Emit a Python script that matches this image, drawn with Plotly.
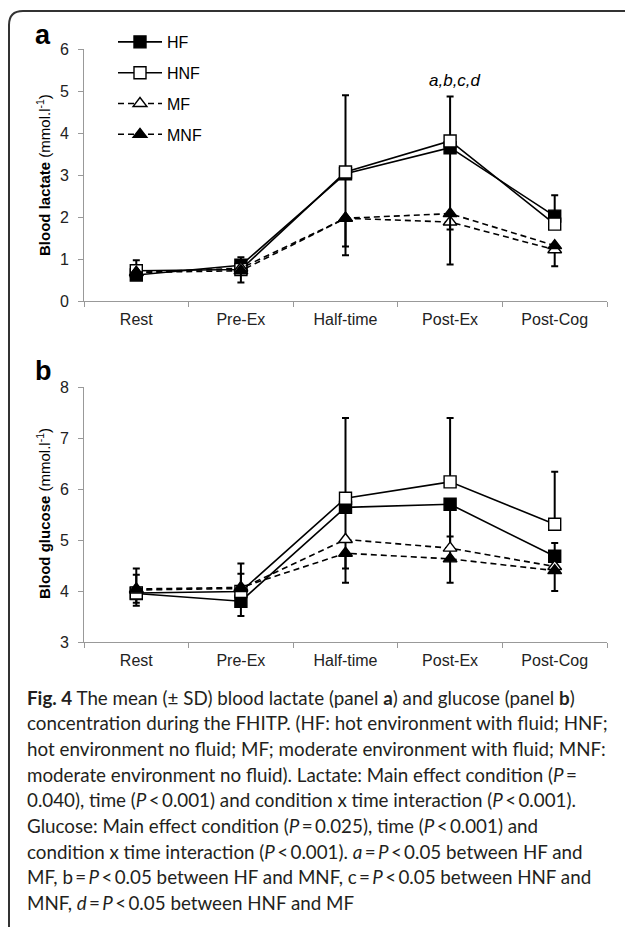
import plotly.graph_objects as go
from plotly.subplots import make_subplots

categories = ["Rest", "Pre-Ex", "Half-time", "Post-Ex", "Post-Cog"]
series_names = ["HF", "HNF", "MF", "MNF"]

# Blood lactate (mmol/l)
lac_HF = [0.62, 0.85, 3.03, 3.65, 2.02]
lac_HNF = [0.72, 0.75, 3.07, 3.81, 1.83]
lac_MF = [0.68, 0.78, 1.97, 1.88, 1.22]
lac_MNF = [0.68, 0.72, 1.97, 2.08, 1.32]
lac_HF_plus = [0, 0.19, 0, 0, 0.50]
lac_HF_minus = [0, 0, 1.73, 1.95, 0]
lac_HNF_plus = [0.25, 0, 1.83, 1.06, 0]
lac_HNF_minus = [0, 0, 0, 0, 0]
lac_MF_plus = [0, 0, 0, 0, 0]
lac_MF_minus = [0, 0, 0, 0, 0.39]
lac_MNF_plus = [0, 0, 0, 0, 0]
lac_MNF_minus = [0, 0.28, 0.88, 1.21, 0]

# Blood glucose (mmol/l)
glu_HF = [3.95, 3.80, 5.64, 5.70, 4.68]
glu_HNF = [3.96, 3.99, 5.82, 6.14, 5.31]
glu_MF = [4.02, 4.05, 5.01, 4.84, 4.48]
glu_MNF = [4.04, 4.07, 4.74, 4.63, 4.40]
glu_HF_plus = [0, 0, 0, 0, 0.26]
glu_HF_minus = [0.24, 0.29, 1.20, 1.54, 0]
glu_HNF_plus = [0, 0.35, 1.57, 1.25, 1.03]
glu_HNF_minus = [0.19, 0, 0, 0, 0]
glu_MF_plus = [0.42, 0.49, 0, 0.23, 0]
glu_MF_minus = [0, 0, 0, 0, 0]
glu_MNF_plus = [0.28, 0, 0, 0, 0]
glu_MNF_minus = [0, 0, 0.58, 0, 0.40]

lac_ticks = [0, 1, 2, 3, 4, 5, 6]
glu_ticks = [3, 4, 5, 6, 7, 8]

caption_lines = [
    "<b>Fig. 4</b> The mean (± SD) blood lactate (panel <b>a</b>) and glucose (panel <b>b</b>)",
    "concentration during the FHITP. (HF: hot environment with fluid; HNF;",
    "hot environment no fluid; MF; moderate environment with fluid; MNF:",
    "moderate environment no fluid). Lactate: Main effect condition (<i>P</i>\u2009=",
    "0.040), time (<i>P</i>\u2009&lt;\u20090.001) and condition x time interaction (<i>P</i>\u2009&lt;\u20090.001).",
    "Glucose: Main effect condition (<i>P</i>\u2009=\u20090.025), time (<i>P</i>\u2009&lt;\u20090.001) and",
    "condition x time interaction (<i>P</i>\u2009&lt;\u20090.001). <i>a</i>\u2009=\u2009<i>P</i>\u2009&lt;\u20090.05 between HF and",
    "MF, b\u2009=\u2009<i>P</i>\u2009&lt;\u20090.05 between HF and MNF, c\u2009=\u2009<i>P</i>\u2009&lt;\u20090.05 between HNF and",
    "MNF, <i>d</i>\u2009=\u2009<i>P</i>\u2009&lt;\u20090.05 between HNF and MF",
]

W, H = 625, 927
ML, MR, MT, MB = 84, 18, 49, 285
PW, PH = W - ML - MR, H - MT - MB


def px_x(p):
    return (p - ML) / PW


def px_y(p):
    return (H - MB - p) / PH


FONT = "Liberation Sans, Arial, sans-serif"

fig = make_subplots(rows=2, cols=1, vertical_spacing=0.145)

styles = {
    "HF": dict(symbol="square", fill="black", dash="solid"),
    "HNF": dict(symbol="square", fill="white", dash="solid"),
    "MF": dict(symbol="triangle-up", fill="white", dash="6px,4px"),
    "MNF": dict(symbol="triangle-up", fill="black", dash="6px,4px"),
}

lac = {"HF": (lac_HF, lac_HF_plus, lac_HF_minus),
       "HNF": (lac_HNF, lac_HNF_plus, lac_HNF_minus),
       "MF": (lac_MF, lac_MF_plus, lac_MF_minus),
       "MNF": (lac_MNF, lac_MNF_plus, lac_MNF_minus)}
glu = {"HF": (glu_HF, glu_HF_plus, glu_HF_minus),
       "HNF": (glu_HNF, glu_HNF_plus, glu_HNF_minus),
       "MF": (glu_MF, glu_MF_plus, glu_MF_minus),
       "MNF": (glu_MNF, glu_MNF_plus, glu_MNF_minus)}

for row, data in ((1, lac), (2, glu)):
    for name in series_names:
        vals, plus, minus = data[name]
        st = styles[name]
        fig.add_trace(go.Scatter(
            x=categories, y=vals, name=name, mode="lines+markers",
            legendgroup=name, showlegend=(row == 1),
            line=dict(color="black", width=1.6, dash=st["dash"]),
            marker=dict(symbol=st["symbol"], size=12, color=st["fill"],
                        line=dict(color="black", width=1.4)),
            error_y=dict(type="data", symmetric=False, array=plus, arrayminus=minus,
                         color="black", thickness=2, width=3.5),
            cliponaxis=False,
        ), row=row, col=1)

axis_common = dict(showline=True, linecolor="#999999", linewidth=1, ticks="outside",
                   tickcolor="#999999", ticklen=5, showgrid=False, zeroline=False,
                   automargin=False,
                   tickfont=dict(family=FONT, size=16, color="#222222"))

fig.update_xaxes(**axis_common, type="category", tickson="boundaries",
                 range=[-0.5, 4.5], ticklabelstandoff=4)
fig.update_yaxes(**axis_common, ticklabelstandoff=6)
fig.update_yaxes(range=[0, 6], tickvals=lac_ticks, domain=[px_y(301), 1], row=1, col=1)
fig.update_yaxes(range=[3, 8], tickvals=glu_ticks, domain=[0, px_y(387)], row=2, col=1)

ann = []
# panel letters
ann.append(dict(text="<b>a</b>", x=px_x(43), y=px_y(35), xref="paper", yref="paper",
                xanchor="center", yanchor="middle",
                showarrow=False, font=dict(family=FONT, size=27, color="black")))
ann.append(dict(text="<b>b</b>", x=px_x(43), y=px_y(371), xref="paper", yref="paper",
                xanchor="center", yanchor="middle",
                showarrow=False, font=dict(family=FONT, size=27, color="black")))
# y-axis titles
ann.append(dict(text="<b>Blood lactate</b> (mmol.l<sup>-1</sup>)", x=px_x(43), y=px_y(175),
                xref="paper", yref="paper", textangle=-90, showarrow=False,
                xanchor="center", yanchor="middle",
                font=dict(family=FONT, size=15, color="black")))
ann.append(dict(text="<b>Blood glucose</b> (mmol.l<sup>-1</sup>)", x=px_x(43), y=px_y(514),
                xref="paper", yref="paper", textangle=-90, showarrow=False,
                xanchor="center", yanchor="middle",
                font=dict(family=FONT, size=15, color="black")))
# significance labels
ann.append(dict(text="<i>a,b,c,d</i>", x="Post-Ex", y=5.25, xref="x", yref="y",
                xshift=5, showarrow=False, font=dict(family=FONT, size=17, color="black")))
ann.append(dict(text="<i>d</i>", x="Half-time", y=8.08, xref="x2", yref="y2",
                showarrow=False, font=dict(family=FONT, size=17, color="black")))
ann.append(dict(text="<i>a,c,d</i>", x="Post-Ex", y=8.08, xref="x2", yref="y2",
                xshift=16, showarrow=False, font=dict(family=FONT, size=17, color="black")))
# caption
for i, line in enumerate(caption_lines):
    ann.append(dict(text=line, x=px_x(25), y=px_y(697 + i * 25.7), xref="paper", yref="paper",
                    xanchor="left", yanchor="middle", showarrow=False, align="left",
                    font=dict(family="Lato, Open Sans, sans-serif", size=18.8, color="#231f20")))

# rounded frame
x0, y0, x1, y1, r = 9, 11, 640, 940, 14
fx = lambda p: px_x(p)
fy = lambda p: px_y(p)
path = (f"M {fx(x0)},{fy(y0 + r)} Q {fx(x0)},{fy(y0)} {fx(x0 + r)},{fy(y0)} "
        f"L {fx(x1)},{fy(y0)} L {fx(x1)},{fy(y1)} L {fx(x0 + r)},{fy(y1)} "
        f"Q {fx(x0)},{fy(y1)} {fx(x0)},{fy(y1 - r)} Z")

fig.update_layout(
    width=W, height=H, margin=dict(l=ML, r=MR, t=MT, b=MB, autoexpand=False),
    paper_bgcolor="white", plot_bgcolor="white",
    annotations=ann,
    shapes=[dict(type="path", path=path, xref="paper", yref="paper",
                 line=dict(color="#333333", width=2), fillcolor="rgba(0,0,0,0)", layer="below")],
    legend=dict(x=px_x(113), y=px_y(25), xanchor="left", yanchor="top",
                bgcolor="rgba(0,0,0,0)", font=dict(family=FONT, size=16, color="black"),
                tracegroupgap=7, itemwidth=44),
    showlegend=True,
)

fig.write_html("out.html", config={"displayModeBar": False},
               post_script="document.body.style.margin='0px';document.body.style.overflow='hidden';")
